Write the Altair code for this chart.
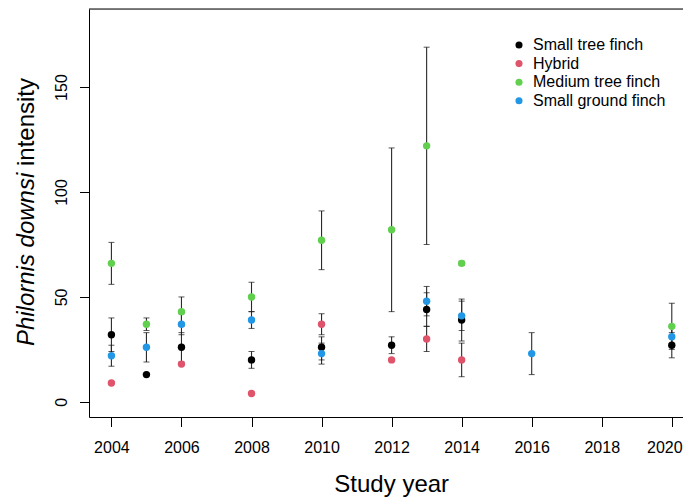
import altair as alt
import pandas as pd

species = ["Small tree finch", "Hybrid", "Medium tree finch", "Small ground finch"]
colors = ["#000000", "#DF536B", "#61D04F", "#2297E6"]

stf_year = [2004, 2005, 2006, 2008, 2010, 2012, 2013, 2014, 2020]
stf_mean = [32, 13, 26, 20, 26, 27, 44, 39, 27]
stf_lo = [24, None, 19, 16, 20, 23, 36, 29, 21]
stf_hi = [40, None, 33, 24, 31, 31, 52, 49, 33]

hyb_year = [2004, 2006, 2008, 2010, 2012, 2013, 2014]
hyb_mean = [9, 18, 4, 37, 20, 30, 20]
hyb_lo = [None, None, None, 32, None, 24, 12]
hyb_hi = [None, None, None, 42, None, 36, 28]

mtf_year = [2004, 2005, 2006, 2008, 2010, 2012, 2013, 2014, 2020]
mtf_mean = [66, 37, 43, 50, 77, 82, 122, 66, 36]
mtf_lo = [56, 34, 36, 43, 63, 43, 75, 65, 25]
mtf_hi = [76, 40, 50, 57, 91, 121, 169, 67, 47]

sgf_year = [2004, 2005, 2006, 2008, 2010, 2013, 2014, 2016, 2020]
sgf_mean = [22, 26, 37, 39, 23, 48, 41, 23, 31]
sgf_lo = [17, 19, 32, 35, 18, 41, 34, 13, 26]
sgf_hi = [27, 33, 42, 43, 28, 55, 48, 33, 36]

x_ticks = [2004, 2006, 2008, 2010, 2012, 2014, 2016, 2018, 2020]
y_ticks = [0, 50, 100, 150]

groups = [
    (species[0], stf_year, stf_mean, stf_lo, stf_hi),
    (species[1], hyb_year, hyb_mean, hyb_lo, hyb_hi),
    (species[2], mtf_year, mtf_mean, mtf_lo, mtf_hi),
    (species[3], sgf_year, sgf_mean, sgf_lo, sgf_hi),
]
rows = []
for sp, yrs, mn, lo, hi in groups:
    for i in range(len(yrs)):
        rows.append({"species": sp, "year": yrs[i], "mean": mn[i], "lo": lo[i], "hi": hi[i]})
df = pd.DataFrame(rows)

FONT = "Liberation Sans"
W, H = 594, 408

xs = alt.Scale(domain=[2003.36, 2020.32], nice=False, zero=False)
ys = alt.Scale(domain=[-7.2, 187.2], nice=False, zero=False)

x_axis = alt.Axis(values=x_ticks, format="d", title=None, grid=False,
                  labelFont=FONT, labelFontSize=16, labelColor="black",
                  tickColor="black", tickSize=9.5, labelPadding=12.5,
                  labelOffset={"condition": {"test": "datum.value == 2020", "value": -7.5}, "value": 0},
                  domainColor="black", labelFlush=False, labelOverlap=False)
y_axis = alt.Axis(values=y_ticks, title=None, grid=False,
                  labelFont=FONT, labelFontSize=16, labelColor="black",
                  labelAngle=270, labelAlign="center", labelBaseline="alphabetic",
                  tickColor="black", tickSize=9.5, labelPadding=12.6,
                  domainColor="black", labelFlush=False, labelOverlap=False)

base = alt.Chart(df)

err = base.transform_filter("isValid(datum.lo)")
bars = err.mark_rule(color="#2a2a2a", strokeWidth=1.1).encode(
    x=alt.X("year:Q", scale=xs, axis=x_axis),
    y=alt.Y("lo:Q", scale=ys, axis=y_axis),
    y2="hi:Q",
)
cap_lo = err.mark_tick(orient="horizontal", size=6, thickness=1, color="#111111").encode(
    x=alt.X("year:Q", scale=xs), y=alt.Y("lo:Q", scale=ys))
cap_hi = err.mark_tick(orient="horizontal", size=6, thickness=1, color="#111111").encode(
    x=alt.X("year:Q", scale=xs), y=alt.Y("hi:Q", scale=ys))

points = base.mark_circle(size=55, opacity=1).encode(
    x=alt.X("year:Q", scale=xs),
    y=alt.Y("mean:Q", scale=ys),
    color=alt.Color("species:N", scale=alt.Scale(domain=species, range=colors),
                    legend=alt.Legend(orient="none", legendX=422, legendY=28, title=None,
                                      labelFont=FONT, labelFontSize=16, labelColor="black",
                                      symbolType="circle", symbolSize=50, symbolStrokeWidth=0,
                                      symbolOpacity=1, labelOffset=6, rowPadding=2.6,
                                      labelLimit=300)),
)

top_border = alt.Chart(pd.DataFrame({"k": [0]})).mark_rule(color="black", strokeWidth=1).encode(
    x=alt.value(0), x2=alt.value(W), y=alt.value(0))

xtitle = alt.Chart(pd.DataFrame({"k": [0]})).mark_text(
    text="Study year", font=FONT, fontSize=24, align="center", baseline="alphabetic", color="black"
).encode(x=alt.value(302.7), y=alt.value(483.3))

ytitle_it = alt.Chart(pd.DataFrame({"k": [0]})).mark_text(
    text="Philornis downsi", font=FONT, fontSize=24, fontStyle="italic", angle=270,
    align="right", baseline="alphabetic", color="black"
).encode(x=alt.value(-55.5), y=alt.value(163.7))
ytitle_rest = alt.Chart(pd.DataFrame({"k": [0]})).mark_text(
    text="intensity", font=FONT, fontSize=24, angle=270,
    align="left", baseline="alphabetic", color="black"
).encode(x=alt.value(-55.5), y=alt.value(157.0))

chart = alt.layer(bars, cap_lo, cap_hi, points, top_border, xtitle, ytitle_it, ytitle_rest).properties(
    width=W, height=H,
    autosize=alt.AutoSizeParams(type="none"),
    padding={"left": 81, "top": 1, "right": 0, "bottom": 80},
).configure_view(stroke=None).configure(background="white")

chart.save("out.html", embed_options={"renderer": "svg", "actions": False})
